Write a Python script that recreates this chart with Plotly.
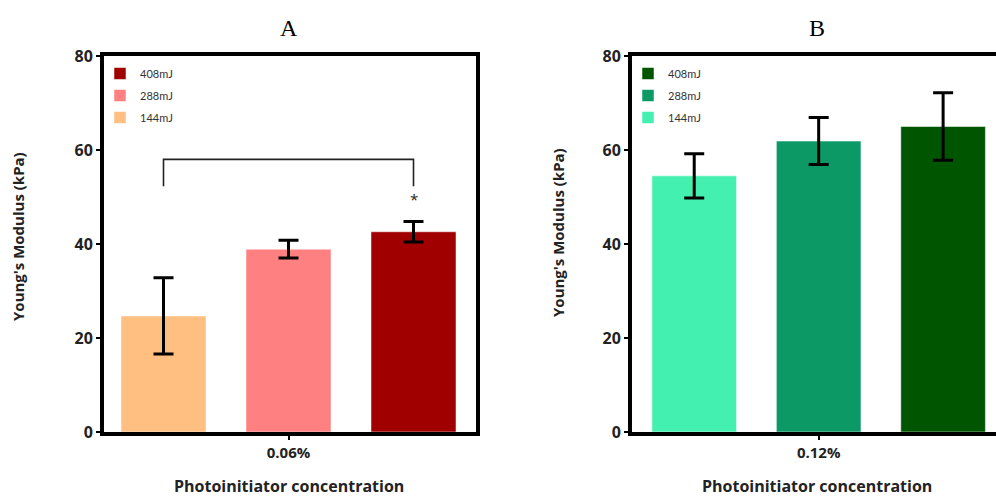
import plotly.graph_objects as go

# ---------------- data ----------------
energies = ["144mJ", "288mJ", "408mJ"]

conc_A = "0.06%"
means_A = [24.7, 38.9, 42.6]
errs_A = [8.1, 1.9, 2.2]
colors_A = ["#FFBF80", "#FF8080", "#A00000"]

conc_B = "0.12%"
means_B = [54.5, 61.9, 65.0]
errs_B = [4.7, 5.0, 7.2]
colors_B = ["#44F0B0", "#0C9966", "#005500"]

y_ticks = [0, 20, 40, 60, 80]
sig_label = "*"
bracket_top = 58
bracket_bottom = 52.3
star_y = 49.6

# ---------------- figure ----------------
W, H = 996, 497
BARGAP = 0.0
BARGROUPGAP = 0.32
n = len(energies)
slot = (1 - BARGAP) / n
centers = [(i - (n - 1) / 2) * slot for i in range(n)]

fig = go.Figure()

for i, e in enumerate(energies):
    fig.add_trace(go.Bar(
        x=[0], y=[means_A[i]], name=e,
        marker=dict(color=colors_A[i], line=dict(color="rgba(255,255,255,0.5)", width=1)),
        error_y=dict(type="data", array=[errs_A[i]], color="black", thickness=3, width=10),
        xaxis="x", yaxis="y", legend="legend", legendgroup="A" + e, legendrank=n - i,
        offsetgroup=str(i),
    ))
for i, e in enumerate(energies):
    fig.add_trace(go.Bar(
        x=[0], y=[means_B[i]], name=e,
        marker=dict(color=colors_B[i], line=dict(color="rgba(255,255,255,0.5)", width=1)),
        error_y=dict(type="data", array=[errs_B[i]], color="black", thickness=3, width=10),
        xaxis="x2", yaxis="y2", legend="legend2", legendgroup="B" + e, legendrank=n - i,
        offsetgroup=str(i),
    ))

# significance bracket between first and last bar of panel A
fig.add_trace(go.Scatter(
    x=[centers[0], centers[0], centers[-1], centers[-1]],
    y=[bracket_bottom, bracket_top, bracket_top, bracket_bottom],
    mode="lines", line=dict(color="#222", width=1.6),
    showlegend=False, hoverinfo="skip", xaxis="x", yaxis="y",
))

tickfont = dict(family="Open Sans", size=16, color="#222", weight="bold")
ydom = [1 - 432 / H, 1 - 56 / H]

common_y = dict(range=[0, 80], tickvals=y_ticks, showgrid=False, zeroline=False,
                showline=True, linecolor="black", linewidth=4, automargin=False,
                ticks="outside", ticklen=4, tickwidth=2, tickcolor="black",
                tickfont=tickfont, domain=ydom)
common_x = dict(showgrid=False, zeroline=False, showline=True, linecolor="black",
                linewidth=4, ticks="outside", ticklen=4, tickwidth=2, tickcolor="black",
                automargin=False,
                tickfont=dict(family="Open Sans", size=15, color="#222", weight="bold"),
                tickvals=[0])

legend_common = dict(xanchor="left", yanchor="top",
                     traceorder="grouped", tracegroupgap=3,
                     font=dict(family="Lato", size=11, color="#333"),
                     bgcolor="rgba(0,0,0,0)", itemclick=False)

fig.update_layout(
    width=W, height=H,
    margin=dict(l=0, r=0, t=0, b=0, autoexpand=False),
    paper_bgcolor="white", plot_bgcolor="white",
    barmode="group", bargap=BARGAP, bargroupgap=BARGROUPGAP,
    xaxis=dict(**common_x, domain=[104 / W, 476 / W], range=[-0.492, 0.5],
               ticktext=[conc_A], mirror=True, anchor="y"),
    yaxis=dict(**common_y, mirror=True, anchor="x"),
    xaxis2=dict(**common_x, domain=[632 / W, 1.0], range=[-0.5, 0.475],
                ticktext=[conc_B], mirror=True, anchor="y2"),
    yaxis2=dict(**common_y, anchor="x2"),
    legend=dict(x=100 / W, y=1 - 59 / H, **legend_common),
    legend2=dict(x=628 / W, y=1 - 59 / H, **legend_common),
    showlegend=True,
)

titlefont = dict(family="Open Sans", size=15, color="#222", weight="bold")
xtitlefont = dict(family="Open Sans", size=16, color="#222", weight="bold")
ann = [
    dict(text="A", x=289 / W, y=1 - 28 / H, font=dict(family="Liberation Serif", size=24, color="black")),
    dict(text="B", x=817 / W, y=1 - 28 / H, font=dict(family="Liberation Serif", size=24, color="black")),
    dict(text="Young's Modulus (kPa)", x=18 / W, y=1 - 237 / H, textangle=-90, font=titlefont),
    dict(text="Young's Modulus (kPa)", x=558 / W, y=1 - 233 / H, textangle=-90, font=titlefont),
    dict(text="Photoinitiator concentration", x=289 / W, y=1 - 486 / H, font=xtitlefont),
    dict(text="Photoinitiator concentration", x=817 / W, y=1 - 486 / H, font=xtitlefont),
]
for a in ann:
    fig.add_annotation(xref="paper", yref="paper", xanchor="center", yanchor="middle",
                       showarrow=False, **a)

fig.add_annotation(x=centers[-1], y=star_y, xref="x", yref="y", text=sig_label,
                   showarrow=False, font=dict(family="Open Sans", size=15, color="#222"))

fig.write_html("out.html", config={"displayModeBar": False},
               post_script="document.body.style.margin='0';document.body.style.overflow='hidden';")
